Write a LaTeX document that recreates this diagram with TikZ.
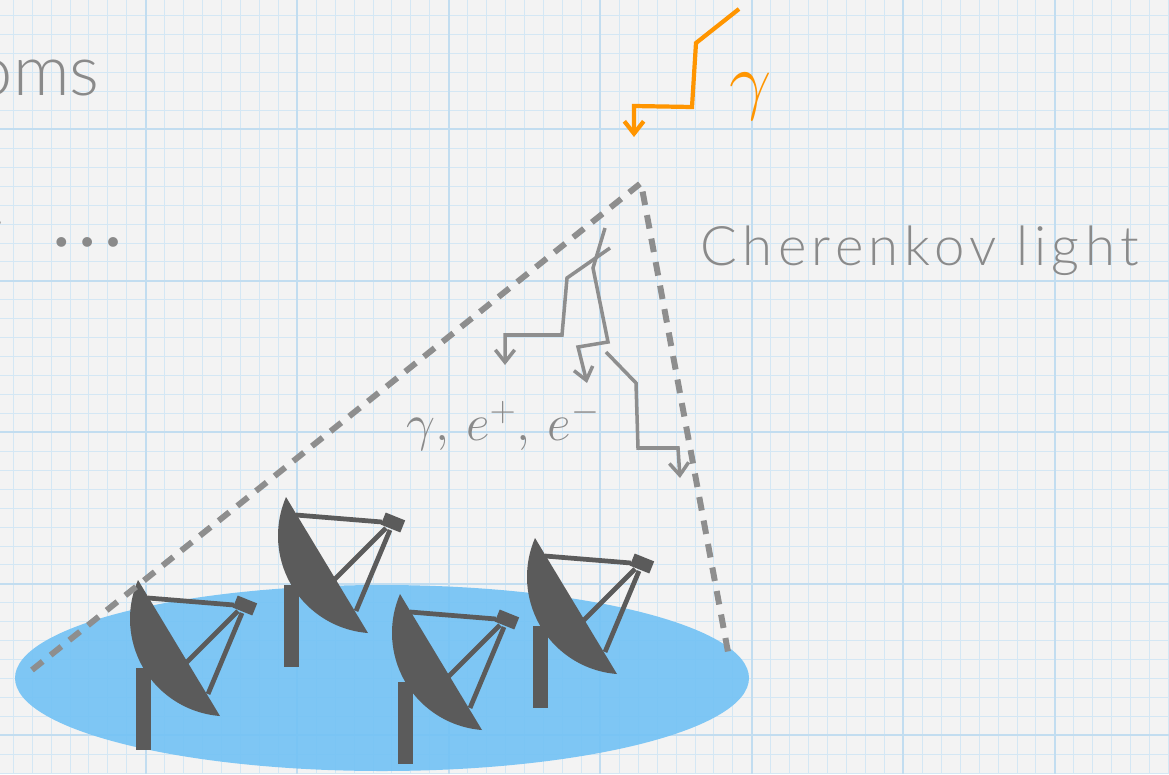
\documentclass[tikz,border=0pt]{standalone}
\usepackage{graphicx}
\usepackage{fontspec}
\newfontfamily\lightsans{Lato Light}
\newfontfamily\widesans[LetterSpace=10]{Lato Light}
\usetikzlibrary{arrows.meta}

\definecolor{paper}{RGB}{243,243,243}
\definecolor{gridblue}{RGB}{212,231,244}
\definecolor{gridmajor}{RGB}{194,221,240}
\definecolor{textgray}{RGB}{138,138,138}
\definecolor{showergray}{RGB}{142,142,142}
\definecolor{dishgray}{RGB}{91,91,91}
\definecolor{poolblue}{RGB}{114,194,245}
\definecolor{photon}{RGB}{255,149,0}

\tikzset{
  minorgrid/.style={gridblue,line width=0.5pt},
  majorgrid/.style={gridmajor,line width=1pt},
  cone/.style={showergray,line width=3.4pt,dash pattern=on 7.8pt off 5.8pt},
  track/.style={showergray,line width=2pt,->},
  strut/.style={dishgray,line width=2.7pt},
  label/.style={textgray,inner sep=0pt},
}

\begin{document}
\begin{tikzpicture}[x=0.02cm,y=-0.02cm,>={Straight Barb[length=7pt,width=11pt]}]
\useasboundingbox (0,0) rectangle (1169,774);
\clip (0,0) rectangle (1169,774);

% graph paper
\fill[paper] (0,0) rectangle (1169,774);
\foreach \i in {-8,...,54} \draw[minorgrid] ({145.7+18.94*\i},0) -- ++(0,774);
\foreach \i in {-7,...,34} \draw[minorgrid] (0,{129.3+18.94*\i}) -- ++(1169,0);
\foreach \i in {-1,...,7} \draw[majorgrid] ({145.7+151.5*\i},0) -- ++(0,774);
\foreach \i in {-1,...,4} \draw[majorgrid] (0,{129.3+151.5*\i}) -- ++(1169,0);

% light pool on the ground
\fill[poolblue,opacity=0.9] (382,678) ellipse [x radius=367, y radius=93];

% telescopes: stand, dish, feed arms, camera box
\foreach \tx/\ty in {286/497, 535/538, 138/580, 400/594}{
  \begin{scope}[shift={(\tx,\ty)}]
    \fill[dishgray] (-2,88) rectangle (13,170);
    \fill[dishgray] (0,0) -- (82,136) arc[start angle=94.4, end angle=203.4, radius=97.5] -- cycle;
    \draw[strut] (10,18) -- (96,25);
    \draw[strut] (48,83) -- (100,31);
    \draw[strut] (70,114) -- (104,33);
    \fill[dishgray,rotate around={-22:(107,25.5)}] (96.5,19) rectangle (117.5,32);
  \end{scope}
}

% light cone
\coordinate (apex) at (641,183);
\coordinate (coneL) at (32,670);
\coordinate (coneR) at (728,652);
\draw[cone] (coneL) -- (apex) -- (coneR);

% primary photon
\coordinate (in) at (739,9);
\coordinate (hit) at (634,137);
\draw[photon,line width=2.4pt,->] (in) -- (696,43) -- (692,107) -- (634,106) -- (hit);
\node[photon,inner sep=0pt] (gam) at (751,97) {\fontsize{25}{25}\selectfont\scalebox{1.72}{$\gamma$}};

% cascade
\coordinate (s0) at (605,228);
\coordinate (s1) at (610,248);
\coordinate (s2) at (606,352);
\coordinate (e1) at (587,383);
\coordinate (e2) at (505,365);
\coordinate (e3) at (680,478);
\draw[track] (s0) -- (593,268) -- (608,342) -- (578,347) -- (e1);
\draw[track] (s1) -- (567,278) -- (562,335) -- (505,335) -- (e2);
\draw[track] (s2) -- (636,383) -- (638,448) -- (678,448) -- (e3);
\node[label,anchor=base west] (secondaries) at (406,440)
  {\fontsize{25}{25}\selectfont\scalebox{1.18}{$\gamma,\,e^+,\,e^-$}};

% texts
\node[label,anchor=base west] (cherenkov) at (700,265) {\widesans\fontsize{31}{31}\selectfont Cherenkov light};
\node[label,anchor=base east] (oms) at (100,95) {\lightsans\fontsize{40}{40}\selectfont oms};
\node[label,anchor=base east] (cut) at (2,246) {\lightsans\fontsize{28}{28}\selectfont r};
\node[label,anchor=base] (dots) at (88,246) {\lightsans\fontsize{60}{60}\selectfont …};
\end{tikzpicture}
\end{document}
